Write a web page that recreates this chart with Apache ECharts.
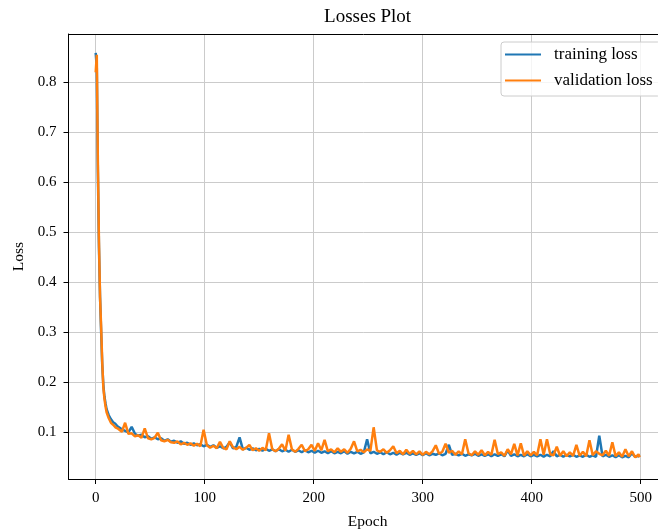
<!DOCTYPE html>
<html>
<head>
<meta charset="utf-8">
<script src="https://cdn.jsdelivr.net/npm/echarts@6/dist/echarts.min.js"></script>
<style>
html, body { margin: 0; padding: 0; background: #fff; }
#losses_plot { width: 658px; height: 532px; }
</style>
</head>
<body>
<div id="losses_plot"></div>
<script>
// tick labels
var epoch_ticks = [0, 100, 200, 300, 400, 500];
var loss_ticks = [0.1, 0.2, 0.3, 0.4, 0.5, 0.6, 0.7, 0.8];

// [epoch, loss]
var training_loss = [
	[0, 0.859], [1, 0.830], [2, 0.620], [3, 0.470], [4, 0.370], [5, 0.300], [6, 0.235], [7, 0.195],
	[8, 0.172], [9, 0.158], [10, 0.146], [12, 0.134], [14, 0.126], [16, 0.120], [18, 0.117], [20, 0.112],
	[21, 0.109], [24, 0.106], [27, 0.103], [30, 0.100], [33, 0.111], [36, 0.097], [39, 0.093], [42, 0.095],
	[45, 0.090], [48, 0.092], [51, 0.087], [54, 0.090], [57, 0.086], [60, 0.088], [63, 0.083], [66, 0.086],
	[69, 0.081], [72, 0.083], [75, 0.079], [78, 0.082], [81, 0.077], [84, 0.079], [87, 0.075], [90, 0.078],
	[93, 0.074], [96, 0.076], [99, 0.072], [102, 0.075], [105, 0.071], [108, 0.074], [111, 0.069], [114, 0.072],
	[117, 0.068], [120, 0.071], [123, 0.080], [126, 0.068], [129, 0.071], [132, 0.090], [135, 0.066], [138, 0.069],
	[141, 0.065], [144, 0.068], [147, 0.064], [150, 0.067], [153, 0.063], [156, 0.067], [159, 0.063], [162, 0.066],
	[165, 0.062], [168, 0.066], [171, 0.062], [174, 0.065], [177, 0.061], [180, 0.065], [183, 0.061], [186, 0.064],
	[189, 0.060], [192, 0.064], [195, 0.060], [198, 0.063], [201, 0.059], [204, 0.063], [207, 0.059], [210, 0.062],
	[213, 0.058], [216, 0.062], [219, 0.058], [222, 0.061], [225, 0.058], [228, 0.062], [231, 0.057], [234, 0.061],
	[237, 0.058], [240, 0.061], [243, 0.057], [246, 0.060], [249, 0.086], [252, 0.058], [255, 0.061], [258, 0.057],
	[261, 0.060], [264, 0.056], [267, 0.060], [270, 0.056], [273, 0.059], [276, 0.055], [279, 0.059], [282, 0.056],
	[285, 0.059], [288, 0.055], [291, 0.058], [294, 0.055], [297, 0.058], [300, 0.054], [303, 0.058], [306, 0.054],
	[309, 0.057], [312, 0.055], [315, 0.058], [318, 0.054], [321, 0.057], [324, 0.075], [327, 0.055], [330, 0.057],
	[333, 0.054], [336, 0.057], [339, 0.053], [342, 0.056], [345, 0.054], [348, 0.057], [351, 0.053], [354, 0.056],
	[357, 0.053], [360, 0.056], [363, 0.052], [366, 0.056], [369, 0.053], [372, 0.056], [375, 0.052], [378, 0.064],
	[381, 0.053], [384, 0.056], [387, 0.052], [390, 0.055], [393, 0.052], [396, 0.056], [399, 0.052], [402, 0.055],
	[405, 0.052], [408, 0.055], [411, 0.051], [414, 0.055], [417, 0.052], [420, 0.062], [423, 0.052], [426, 0.055],
	[429, 0.051], [432, 0.055], [435, 0.052], [438, 0.055], [441, 0.051], [444, 0.054], [447, 0.051], [450, 0.055],
	[453, 0.051], [456, 0.054], [459, 0.051], [462, 0.093], [465, 0.052], [468, 0.055], [471, 0.051], [474, 0.054],
	[477, 0.050], [480, 0.054], [483, 0.050], [486, 0.053], [489, 0.050], [492, 0.058], [495, 0.051], [498, 0.053],
	[499, 0.051]
];

var validation_loss = [
	[0, 0.820], [1, 0.855], [2, 0.640], [3, 0.480], [4, 0.370], [5, 0.310], [6, 0.240], [7, 0.190],
	[8, 0.168], [9, 0.152], [10, 0.140], [12, 0.128], [14, 0.119], [16, 0.115], [18, 0.110], [20, 0.108],
	[21, 0.105], [24, 0.101], [27, 0.119], [30, 0.097], [33, 0.098], [36, 0.092], [39, 0.094], [42, 0.089],
	[45, 0.108], [48, 0.088], [51, 0.086], [54, 0.089], [57, 0.099], [60, 0.084], [63, 0.082], [66, 0.085],
	[69, 0.080], [72, 0.079], [75, 0.082], [78, 0.076], [81, 0.079], [84, 0.075], [87, 0.078], [90, 0.073],
	[93, 0.077], [96, 0.072], [99, 0.105], [102, 0.074], [105, 0.069], [108, 0.073], [111, 0.068], [114, 0.081],
	[117, 0.069], [120, 0.066], [123, 0.082], [126, 0.070], [129, 0.066], [132, 0.071], [135, 0.065], [138, 0.069],
	[141, 0.075], [144, 0.064], [147, 0.068], [150, 0.063], [153, 0.069], [156, 0.064], [159, 0.098], [162, 0.066],
	[165, 0.062], [168, 0.067], [171, 0.076], [174, 0.063], [177, 0.095], [180, 0.066], [183, 0.061], [186, 0.067],
	[189, 0.075], [192, 0.062], [195, 0.066], [198, 0.075], [201, 0.063], [204, 0.078], [207, 0.064], [210, 0.085],
	[213, 0.062], [216, 0.066], [219, 0.060], [222, 0.068], [225, 0.061], [228, 0.066], [231, 0.059], [234, 0.067],
	[237, 0.082], [240, 0.062], [243, 0.065], [246, 0.060], [249, 0.066], [252, 0.063], [255, 0.110], [258, 0.064],
	[261, 0.061], [264, 0.066], [267, 0.059], [270, 0.064], [273, 0.072], [276, 0.058], [279, 0.063], [282, 0.056],
	[285, 0.065], [288, 0.057], [291, 0.063], [294, 0.056], [297, 0.062], [300, 0.055], [303, 0.061], [306, 0.056],
	[309, 0.062], [312, 0.074], [315, 0.057], [318, 0.061], [321, 0.077], [324, 0.059], [327, 0.063], [330, 0.055],
	[333, 0.062], [336, 0.056], [339, 0.086], [342, 0.058], [345, 0.054], [348, 0.062], [351, 0.055], [354, 0.064],
	[357, 0.054], [360, 0.061], [363, 0.055], [366, 0.085], [369, 0.056], [372, 0.060], [375, 0.053], [378, 0.066],
	[381, 0.056], [384, 0.077], [387, 0.054], [390, 0.078], [393, 0.053], [396, 0.062], [399, 0.054], [402, 0.061],
	[405, 0.054], [408, 0.086], [411, 0.055], [414, 0.086], [417, 0.056], [420, 0.054], [423, 0.071], [426, 0.053],
	[429, 0.062], [432, 0.052], [435, 0.060], [438, 0.053], [441, 0.075], [444, 0.053], [447, 0.061], [450, 0.052],
	[453, 0.084], [456, 0.054], [459, 0.062], [462, 0.057], [465, 0.054], [468, 0.063], [471, 0.053], [474, 0.080],
	[477, 0.052], [480, 0.060], [483, 0.051], [486, 0.066], [489, 0.052], [492, 0.062], [495, 0.050], [498, 0.056],
	[499, 0.050]
];

var font_family = "'Liberation Serif', 'Times New Roman', serif";

function chart_losses_plot(){
	var losses_plot = echarts.init(document.getElementById("losses_plot"));
	var option = {
		animation: false,
		backgroundColor: '#ffffff',
		textStyle: { fontFamily: font_family, color: '#000' },
		graphic: [
			{
				type: 'text',
				x: 367.6,
				y: 17,
				style: {
					text: 'Losses Plot',
					fontFamily: font_family,
					fontSize: 19,
					fill: '#000',
					align: 'center',
					verticalAlign: 'middle'
				}
			}
		],
		grid: {
			left: 68.5,
			top: 34,
			width: 598.3,
			height: 445,
			containLabel: false,
			outerBoundsMode: 'none',
			show: false
		},
		legend: {
			orient: 'vertical',
			left: 501,
			top: 42,
			padding: [4, 8, 7, 4],
			itemGap: 9,
			itemWidth: 36,
			itemHeight: 2,
			icon: 'rect',
			backgroundColor: 'rgba(255,255,255,0.8)',
			borderColor: '#cccccc',
			borderWidth: 1,
			borderRadius: 3,
			textStyle: { fontFamily: font_family, fontSize: 17, color: '#000', padding: [0, 0, 0, 8] },
			data: ['training loss', 'validation loss']
		},
		xAxis: [
			{
				type: 'value',
				min: -24.95,
				max: 523.95,
				name: 'Epoch',
				nameLocation: 'middle',
				nameGap: 35,
				nameTextStyle: { fontFamily: font_family, fontSize: 15.5, color: '#000' },
				axisLine: { show: true, onZero: false, lineStyle: { color: '#000', width: 1 } },
				axisTick: { show: true, inside: false, length: 5, customValues: epoch_ticks, lineStyle: { color: '#000' } },
				axisLabel: { customValues: epoch_ticks, margin: 12, fontFamily: font_family, fontSize: 15, color: '#000' },
				splitLine: { show: true, lineStyle: { color: '#cbcbcb', width: 1 } }
			},
			{
				// top frame line
				type: 'value',
				position: 'top',
				min: -24.95,
				max: 523.95,
				axisLine: { show: true, onZero: false, lineStyle: { color: '#000', width: 1 } },
				axisTick: { show: false },
				axisLabel: { show: false },
				splitLine: { show: false }
			}
		],
		yAxis: {
			type: 'value',
			min: 0.0066,
			max: 0.8966,
			name: 'Loss',
			nameLocation: 'middle',
			nameGap: 42,
			nameTextStyle: { fontFamily: font_family, fontSize: 15.5, color: '#000' },
			axisLine: { show: true, onZero: false, lineStyle: { color: '#000', width: 1 } },
			axisTick: { show: true, inside: false, length: 5, customValues: loss_ticks, lineStyle: { color: '#000' } },
			axisLabel: {
				customValues: loss_ticks,
				margin: 12,
				fontFamily: font_family,
				fontSize: 15,
				color: '#000',
				formatter: function(v){ return v.toFixed(1); }
			},
			splitLine: { show: true, lineStyle: { color: '#cbcbcb', width: 1 } }
		},
		series: [
			{
				name: 'training loss',
				type: 'line',
				xAxisIndex: 0,
				showSymbol: false,
				symbol: 'none',
				color: '#1f77b4',
				lineStyle: { color: '#1f77b4', width: 2.5 },
				z: 2,
				data: training_loss
			},
			{
				name: 'validation loss',
				type: 'line',
				xAxisIndex: 0,
				showSymbol: false,
				symbol: 'none',
				color: '#ff7f0e',
				lineStyle: { color: '#ff7f0e', width: 2.5 },
				z: 3,
				data: validation_loss
			}
		]
	};
	losses_plot.setOption(option);
	window.addEventListener("resize",function(){
		losses_plot.resize();
	});
}

chart_losses_plot();
</script>
</body>
</html>
